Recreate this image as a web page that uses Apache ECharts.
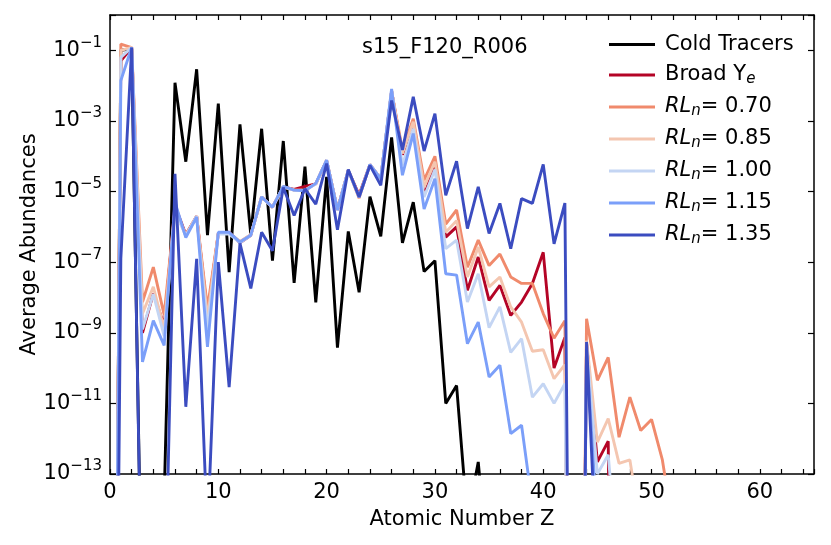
<!DOCTYPE html>
<html style="height: 100%">
<head>
<meta charset="utf-8">
</head>
<body style="height: 100%; margin: 0; background: #fff">
<div id="container" style="width: 831px; height: 545px"></div>
<script src="https://cdn.jsdelivr.net/npm/echarts@6/dist/echarts.min.js"></script>
<script type="text/javascript">

// average abundance per atomic number, index = Z (0 .. n); 0 means nothing there
var coldTracers = [0, 1.0e-1, 1.1e-1, 1e-18, 1e-25, 2e-14, 1.2e-2, 7e-5, 2.9e-2, 5.8e-7,
    3.1e-3, 5.2e-8, 8e-4, 6e-7, 6e-4, 1.1e-7, 2.7e-4, 2.6e-8, 5.1e-5, 7.3e-9,
    2.6e-5, 3.8e-10, 7.4e-7, 1.4e-8, 7.2e-6, 5.4e-7, 3.4e-4, 3.5e-7, 5e-6, 5.4e-8,
    1.1e-7, 1e-11, 3.2e-11, 5e-15, 2.2e-13, 1e-16, 0];

var broadYe = [0, 5e-2, 1.2e-1, 1e-9, 1.3e-8, 1.6e-9, 4e-6, 6e-7, 2e-6, 3.2e-9,
    6.5e-7, 7e-7, 3.5e-7, 5.8e-7, 7e-6, 3.6e-6, 1.35e-5, 1.15e-5, 1.4e-5, 1.65e-5,
    7.6e-5, 3.1e-6, 4e-5, 8e-6, 5.8e-5, 2.3e-5, 7e-3, 1.1e-4, 8.3e-4, 7.8e-6,
    5.5e-5, 5.1e-7, 1e-6, 1.6e-8, 1.4e-7, 8.3e-9, 2.2e-8, 3.1e-9, 7.4e-9, 2.5e-8,
    1.9e-7, 1e-10, 7.4e-10, 0, 5e-10, 2.2e-13, 8.5e-13, 0];

var rl070 = [0, 1.5e-1, 1.2e-1, 7.4e-9, 7.2e-8, 3.2e-9, 3.2e-6, 6e-7, 2e-6, 5e-9,
    6.5e-7, 6.8e-7, 3.8e-7, 6e-7, 7e-6, 3.6e-6, 1.35e-5, 1.1e-5, 1.1e-5, 1.65e-5,
    7.6e-5, 3e-6, 4e-5, 6.5e-6, 5.8e-5, 2.3e-5, 7e-3, 1.5e-4, 1.15e-3, 2.1e-5,
    1e-4, 1.2e-6, 3e-6, 7.2e-8, 4.2e-7, 8e-8, 1.7e-7, 3.8e-8, 2.5e-8, 2.5e-8,
    3.5e-9, 7e-10, 2.2e-9, 0, 2.5e-9, 4.5e-11, 2e-10, 1.1e-12, 1.5e-11, 1.7e-12,
    3.5e-12, 2.5e-13, 3e-15];

var rl085 = [0, 1e-1, 1.2e-1, 3.5e-9, 2e-8, 1.3e-9, 3.2e-6, 5.5e-7, 2e-6, 2.5e-9,
    6.5e-7, 6.5e-7, 3.8e-7, 6e-7, 7e-6, 3.6e-6, 1.35e-5, 1.1e-5, 1.1e-5, 1.65e-5,
    7.6e-5, 3e-6, 4e-5, 7e-6, 5.8e-5, 2.3e-5, 7e-3, 1.2e-4, 9.5e-4, 1.35e-5,
    7e-5, 7e-7, 1.5e-6, 3.8e-8, 2.7e-7, 2e-8, 3.8e-8, 5.4e-9, 2e-9, 3e-10,
    3.3e-10, 5e-11, 1.25e-10, 0, 6e-10, 8e-13, 3.7e-12, 2e-13, 2.5e-13, 3e-15];

var rl100 = [0, 6.3e-2, 1.2e-1, 1.25e-9, 1.25e-8, 8e-10, 2.8e-6, 5.5e-7, 2e-6, 1.25e-9,
    6.3e-7, 6.3e-7, 3.5e-7, 5.8e-7, 7e-6, 3.6e-6, 1.35e-5, 1.1e-5, 1.05e-5, 1.65e-5,
    7.6e-5, 3e-6, 4e-5, 7e-6, 5.8e-5, 2.3e-5, 7.5e-3, 5.5e-5, 6e-4, 7e-6,
    4.2e-5, 2.4e-7, 4.2e-7, 7.4e-9, 4.7e-8, 1.4e-9, 5.4e-9, 2.8e-10, 6.8e-10, 1.5e-11,
    3.6e-11, 1e-11, 3.6e-11, 0, 4e-10, 1e-13, 3.5e-13, 1e-16];

var rl115 = [0, 1.4e-2, 1.2e-1, 1.5e-10, 2.2e-9, 4.4e-10, 5e-6, 5e-7, 1.9e-6, 4e-10,
    7e-7, 7e-7, 3.7e-7, 5.8e-7, 7e-6, 3.6e-6, 1.4e-5, 1.1e-5, 1.05e-5, 1.7e-5,
    7.8e-5, 3e-6, 4e-5, 7e-6, 5.8e-5, 2.3e-5, 8e-3, 2.9e-5, 4.4e-4, 3.2e-6,
    2.3e-5, 4.7e-8, 4.3e-8, 4.9e-10, 2e-9, 5.6e-11, 1.2e-10, 1.4e-12, 2.4e-12, 1.3e-14,
    1e-15, 1e-15, 1e-15, 0, 3e-10, 3e-15, 1e-16];

var rl135 = [0, 1.25e-7, 1.2e-1, 6e-19, 1e-20, 1.6e-18, 3.2e-5, 8e-12, 1.25e-7, 2e-15,
    1e-7, 2.9e-11, 3.4e-7, 1.8e-8, 7e-7, 2.1e-7, 1.3e-5, 2.1e-6, 1.2e-5, 4.4e-6,
    6.2e-5, 8.3e-7, 4.2e-5, 7e-6, 5.5e-5, 1.5e-5, 3.8e-3, 1.5e-4, 4.8e-3, 1.4e-4,
    1.6e-3, 7.8e-6, 7.2e-5, 8.9e-7, 1.35e-5, 6.5e-7, 4.6e-6, 2.4e-7, 6.3e-6, 4.6e-6,
    5.9e-5, 3.3e-7, 4.7e-6, 0, 5.5e-10, 1e-16, 1e-20];

var seriesNames = ['Cold Tracers', 'Broad Ye', 'RLn= 0.70', 'RLn= 0.85', 'RLn= 1.00', 'RLn= 1.15', 'RLn= 1.35'];
var seriesValues = [coldTracers, broadYe, rl070, rl085, rl100, rl115, rl135];
var seriesColors = ['#000000', '#b40426', '#f08a6c', '#f4c6b0', '#c4d5f3', '#7b9ff9', '#3b4cc0'];

var yTickExp = [-13, -11, -9, -7, -5, -3, -1];

// zero abundance: pushed far below the axis so the line drops straight off it
function toExp(v) {
    return v > 0 ? Math.log10(v) : -40;
}

var font = 'DejaVu Sans';
var fs = 21;
var dom = document.getElementById('container');
var myChart = echarts.init(dom, null, {renderer: 'canvas'});

var series = [];
for (var i = 0; i < seriesNames.length; i++) {
    var pts = [];
    for (var z = 0; z < seriesValues[i].length; z++) {
        pts.push([z, toExp(seriesValues[i][z])]);
    }
    series.push({
        name: seriesNames[i],
        type: 'line',
        data: pts,
        showSymbol: false,
        symbol: 'none',
        clip: true,
        color: seriesColors[i],
        lineStyle: {width: 2.9, color: seriesColors[i]},
        animation: false
    });
}

var axisLine = {show: true, onZero: false, lineStyle: {color: '#000', width: 1.5}};

var option = {
    backgroundColor: '#fff',
    animation: false,
    title: {
        text: 's15_F120_R006',
        left: 357,
        top: 32,
        textStyle: {fontFamily: font, fontSize: fs, fontWeight: 'normal', color: '#000'}
    },
    grid: {left: 110, right: 17, top: 15, bottom: 71, containLabel: false},
    legend: {
        orient: 'vertical',
        left: 604,
        top: 29,
        itemWidth: 46,
        itemHeight: 3,
        itemGap: 9.5,
        icon: 'rect',
        selectedMode: false,
        data: seriesNames,
        formatter: function (name) {
            if (name === 'Broad Ye') return '{t|Broad Y}{s|e}';
            if (name.indexOf('RLn') === 0) return '{i|RL}{s|n}{t|' + name.slice(3) + '}';
            return '{t|' + name + '}';
        },
        textStyle: {
            fontFamily: font, fontSize: fs, color: '#000', padding: [0, 0, 0, 5],
            rich: {
                t: {fontFamily: font, fontSize: fs, color: '#000', lineHeight: 24},
                i: {fontFamily: font, fontSize: fs, fontStyle: 'italic', color: '#000', lineHeight: 24},
                s: {fontFamily: font, fontSize: 15, fontStyle: 'italic', color: '#000', lineHeight: 12, verticalAlign: 'bottom'}
            }
        }
    },
    xAxis: [{
        type: 'value',
        min: 0,
        max: 65,
        interval: 2,
        position: 'bottom',
        name: 'Atomic Number Z',
        nameLocation: 'middle',
        nameGap: 35,
        nameTextStyle: {fontFamily: font, fontSize: fs, color: '#000'},
        axisLine: axisLine,
        axisTick: {show: true, inside: true, length: 5, lineStyle: {color: '#000', width: 1.2}},
        axisLabel: {
            margin: 8, fontFamily: font, fontSize: fs, color: '#000',
            formatter: function (v) { return v % 10 === 0 ? String(v) : ''; }
        },
        splitLine: {show: false}
    }, {
        type: 'value',
        min: 0,
        max: 65,
        interval: 2,
        position: 'top',
        axisLine: axisLine,
        axisTick: {show: true, inside: true, length: 5, lineStyle: {color: '#000', width: 1.2}},
        axisLabel: {show: false},
        splitLine: {show: false}
    }],
    yAxis: [{
        type: 'value',
        min: yTickExp[0],
        max: 0,
        interval: 2,
        position: 'left',
        name: 'Average Abundances',
        nameLocation: 'middle',
        nameGap: 70,
        nameMoveOverlap: false,
        nameTextStyle: {fontFamily: font, fontSize: fs, color: '#000'},
        axisLine: axisLine,
        axisTick: {show: true, inside: true, length: 6, lineStyle: {color: '#000', width: 1.2}},
        axisLabel: {
            margin: 8,
            formatter: function (v) {
                var e = Math.round(v);
                if (yTickExp.indexOf(e) < 0) return '';
                return '{b|10}{p|\u2212' + Math.abs(e) + '}';
            },
            rich: {
                b: {fontFamily: font, fontSize: fs, color: '#000', lineHeight: 30, verticalAlign: 'middle'},
                p: {fontFamily: font, fontSize: 15, color: '#000', lineHeight: 14, verticalAlign: 'top'}
            }
        },
        splitLine: {show: false}
    }, {
        type: 'value',
        min: yTickExp[0],
        max: 0,
        interval: 2,
        position: 'right',
        axisLine: axisLine,
        axisTick: {show: true, inside: true, length: 6, lineStyle: {color: '#000', width: 1.2}},
        axisLabel: {show: false},
        splitLine: {show: false}
    }],
    series: series
};

myChart.setOption(option);
</script>
</body>
</html>
